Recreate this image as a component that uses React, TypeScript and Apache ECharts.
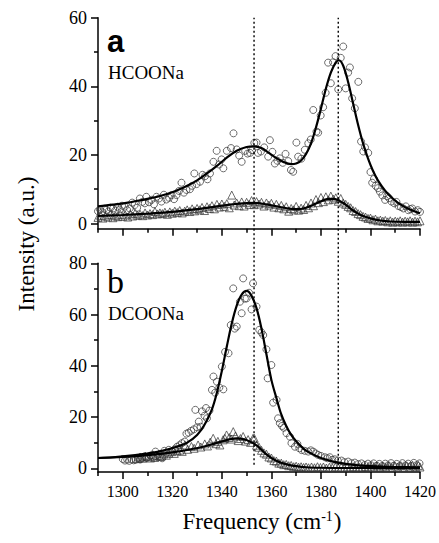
import React, { useEffect, useRef } from "react";
import * as echarts from "echarts";

// ---------- data (frequency cm^-1, intensity a.u.) ----------
const xTickLabels = [1300, 1320, 1340, 1360, 1380, 1400, 1420];
const xMinorTicks = [1290, 1310, 1330, 1350, 1370, 1390, 1410];
const yTicksA = [0, 20, 40, 60];
const yMinorA = [10, 30, 50];
const yTicksB = [0, 20, 40, 60, 80];
const yMinorB = [10, 30, 50, 70];
const markerLines = [1353, 1387];

// panel a, HCOONa – circles
const aCircles: [number, number][] = [
  [1290.0, 3.6], [1290.8, 4.1], [1291.7, 3.3], [1292.5, 4.3], [1293.4, 4.0], [1294.2, 3.5], [1295.1, 4.6],
  [1296.1, 4.4], [1297.0, 3.8], [1297.9, 4.9], [1298.8, 4.1], [1299.7, 5.2], [1300.8, 4.9], [1301.8, 3.9],
  [1302.8, 4.4], [1303.8, 6.1], [1304.8, 5.4], [1305.8, 4.6], [1306.9, 7.3], [1307.9, 6.3], [1308.9, 5.9],
  [1309.5, 7.8], [1310.6, 6.2], [1311.6, 6.9], [1312.6, 5.6], [1313.6, 7.8], [1314.6, 7.3], [1315.6, 6.4],
  [1316.6, 8.4], [1317.6, 7.0], [1318.7, 7.5], [1319.7, 8.3], [1320.7, 7.1], [1321.7, 8.3], [1322.7, 9.5],
  [1323.7, 11.9], [1324.7, 9.0], [1325.7, 9.8], [1327.1, 10.0], [1328.0, 11.0], [1328.9, 14.6], [1329.8, 11.5],
  [1331.2, 12.2], [1332.2, 14.2], [1333.2, 13.8], [1334.2, 12.9], [1335.2, 14.6], [1336.6, 18.0], [1337.9, 21.2],
  [1338.9, 17.2], [1339.9, 18.7], [1340.6, 16.1], [1342.0, 21.2], [1343.7, 22.0], [1344.7, 26.3], [1346.0, 21.6],
  [1347.0, 19.8], [1348.0, 18.0], [1349.4, 21.2], [1350.4, 20.4], [1351.4, 20.6], [1352.2, 21.4], [1353.1, 23.5],
  [1354.0, 23.6], [1354.6, 20.6], [1355.8, 21.0], [1357.1, 22.2], [1358.7, 19.5], [1359.4, 24.3], [1360.4, 20.9],
  [1361.4, 17.5], [1362.4, 18.3], [1363.4, 19.0], [1364.6, 17.7], [1365.7, 20.3], [1366.8, 18.2], [1367.9, 15.6],
  [1368.8, 15.1], [1370.1, 23.6], [1370.8, 19.5], [1372.1, 18.9], [1373.5, 21.5], [1374.9, 23.4], [1375.9, 24.5],
  [1376.9, 33.1], [1378.2, 26.8], [1378.9, 26.5], [1379.9, 31.5], [1380.9, 33.9], [1381.9, 38.1], [1382.9, 46.9],
  [1384.0, 40.9], [1384.9, 47.0], [1385.9, 48.8], [1387.0, 39.1], [1388.0, 48.3], [1389.0, 51.6], [1390.0, 39.4],
  [1391.0, 44.0], [1391.7, 45.5], [1392.6, 36.5], [1393.7, 33.6], [1395.1, 41.3], [1396.2, 23.9], [1397.1, 21.0],
  [1397.8, 22.2], [1399.1, 20.6], [1400.0, 15.0], [1400.7, 11.9], [1401.4, 13.0], [1402.1, 11.0], [1403.0, 10.3],
  [1403.8, 9.3], [1404.8, 8.2], [1405.9, 6.9], [1406.7, 8.0], [1407.5, 7.4], [1408.5, 6.4], [1409.6, 5.9],
  [1410.5, 6.3], [1411.3, 5.1], [1412.3, 4.8], [1413.3, 4.4], [1414.3, 5.0], [1415.3, 3.9], [1416.1, 4.2],
  [1416.9, 4.4], [1418.0, 3.5], [1419.1, 3.9], [1420.0, 3.4],
];

// panel a, HCOONa – triangles
const aTriangles: [number, number][] = [
  [1290, 1.8], [1291, 2.4], [1292, 1.6], [1293, 2.2], [1294, 1.9], [1295, 2.6], [1296, 1.7], [1297, 2.3],
  [1298, 2.0], [1299, 2.7], [1300, 2.1], [1301, 2.5], [1302, 1.9], [1303, 2.8], [1304, 2.2], [1305, 3.0],
  [1306, 2.4], [1307, 2.7], [1308, 2.3], [1309, 3.1], [1310, 2.5], [1311, 2.9], [1312, 2.6], [1313, 3.5],
  [1314, 2.8], [1315, 3.1], [1316, 2.9], [1317, 3.3], [1318, 2.7], [1319, 3.4], [1320, 3.0], [1321, 3.6],
  [1322, 3.2], [1323, 3.8], [1324, 3.1], [1325, 3.6], [1326, 4.0], [1327, 3.5], [1328, 4.3], [1329, 3.7],
  [1330, 4.4], [1331, 4.0], [1332, 4.7], [1333, 3.8], [1334, 4.9], [1335, 4.4], [1336, 5.2], [1337, 4.3],
  [1338, 5.6], [1339, 4.8], [1340, 5.7], [1341, 5.0], [1342, 5.8], [1343, 4.6], [1344, 8.3], [1345, 5.4],
  [1346, 6.0], [1347, 5.2], [1348, 6.3], [1349, 5.1], [1350, 6.2], [1351, 5.6], [1352, 6.7], [1353, 5.5],
  [1354, 6.4], [1355, 5.7], [1356, 6.2], [1357, 5.1], [1358, 6.0], [1359, 5.4], [1360, 5.9], [1361, 4.8],
  [1362, 5.6], [1363, 4.6], [1364, 5.3], [1365, 4.3], [1366, 4.9], [1367, 3.6], [1368, 4.4], [1369, 4.0],
  [1370, 5.0], [1371, 3.9], [1372, 4.5], [1373, 4.1], [1374, 5.3], [1375, 4.6], [1376, 6.0], [1377, 5.2],
  [1378, 7.0], [1379, 6.1], [1380, 7.6], [1381, 6.4], [1382, 7.8], [1383, 6.9], [1384, 8.0], [1385, 7.1],
  [1386, 7.5], [1387, 6.5], [1388, 7.3], [1389, 6.0], [1390, 5.6], [1391, 5.0], [1392, 4.6], [1393, 3.8],
  [1394, 3.5], [1395, 2.9], [1396, 2.6], [1397, 2.1], [1398, 1.9], [1399, 1.5], [1400, 1.6], [1401, 1.1],
  [1402, 1.3], [1403, 0.8], [1404, 1.0], [1405, 0.7], [1406, 0.9], [1407, 0.5], [1408, 0.8], [1409, 0.4],
  [1410, 0.7], [1411, 0.5], [1412, 0.8], [1413, 0.4], [1414, 0.7], [1415, 0.5], [1416, 0.8], [1417, 0.4],
  [1418, 0.7], [1419, 0.5], [1420, 0.8],
];

// panel a fits
const aFitCircles: [number, number][] = [
  [1290, 5.0], [1296, 5.5], [1302, 6.1], [1308, 6.9], [1314, 7.8], [1320, 9.1], [1326, 11.0], [1330, 12.6],
  [1334, 14.6], [1338, 16.8], [1342, 19.2], [1346, 21.2], [1350, 22.3], [1353, 22.5], [1356, 22.0], [1359, 20.6],
  [1362, 19.1], [1365, 17.9], [1368, 17.3], [1370, 17.5], [1372, 18.4], [1374, 20.3], [1376, 23.4], [1378, 28.0],
  [1380, 33.5], [1382, 39.3], [1384, 44.0], [1386, 47.0], [1387.3, 47.6], [1389, 46.0], [1391, 41.2], [1393, 35.0],
  [1395, 28.8], [1397, 23.4], [1399, 19.0], [1401, 15.4], [1403, 12.6], [1406, 9.5], [1409, 7.3], [1412, 5.6],
  [1416, 4.1], [1420, 3.0],
];
const aFitTriangles: [number, number][] = [
  [1290, 2.2], [1300, 2.5], [1310, 2.9], [1320, 3.4], [1330, 4.2], [1340, 5.2], [1347, 5.8], [1353, 6.0],
  [1358, 5.6], [1363, 4.9], [1368, 4.3], [1371, 4.2], [1374, 4.6], [1377, 5.5], [1380, 6.5], [1383, 7.2],
  [1385, 7.2], [1387, 6.8], [1389, 6.0], [1391, 4.9], [1393, 3.8], [1395, 2.9], [1397, 2.2], [1400, 1.5],
  [1404, 0.9], [1408, 0.6], [1414, 0.5], [1420, 0.5],
];

// panel b, DCOONa – circles
const bCircles: [number, number][] = [
  [1300.0, 3.6], [1300.9, 3.0], [1301.8, 3.4], [1302.6, 2.9], [1303.5, 3.5], [1304.4, 3.1], [1305.2, 3.3],
  [1306.1, 3.8], [1307.0, 3.4], [1307.8, 3.9], [1308.7, 4.6], [1309.6, 4.0], [1310.5, 4.5], [1311.4, 5.0],
  [1312.3, 4.3], [1313.2, 6.5], [1314.1, 5.2], [1315.0, 5.6], [1315.9, 3.9], [1316.8, 6.8], [1317.7, 6.0],
  [1318.6, 7.2], [1319.9, 6.5], [1320.9, 7.4], [1321.9, 8.4], [1322.9, 9.0], [1323.9, 9.8], [1325.0, 10.4],
  [1325.7, 13.5], [1326.6, 13.9], [1327.6, 14.6], [1328.7, 15.2], [1329.3, 22.8], [1330.0, 16.0], [1330.7, 18.2],
  [1331.4, 16.2], [1332.0, 22.2], [1333.0, 20.5], [1333.6, 23.5], [1334.0, 19.5], [1335.0, 22.5], [1336.0, 30.6],
  [1336.6, 35.8], [1337.3, 29.5], [1338.0, 33.8], [1339.0, 31.5], [1340.0, 39.7], [1340.6, 30.8], [1341.3, 45.4],
  [1342.7, 44.9], [1343.6, 55.9], [1344.6, 70.2], [1345.2, 54.5], [1346.0, 55.3], [1347.3, 65.0], [1348.0, 60.5],
  [1348.6, 74.1], [1349.3, 66.2], [1350.0, 66.3], [1351.0, 68.5], [1352.0, 62.0], [1352.6, 72.2], [1354.0, 63.1],
  [1355.1, 54.0], [1356.0, 53.0], [1356.7, 52.0], [1358.0, 46.4], [1358.5, 35.1], [1360.0, 40.3], [1360.7, 25.6],
  [1362.1, 26.7], [1362.7, 19.5], [1363.4, 17.6], [1364.3, 16.5], [1365.0, 15.8], [1366.1, 13.7], [1367.5, 12.3],
  [1368.1, 9.8], [1369.5, 8.4], [1370.5, 9.5], [1371.3, 7.8], [1372.2, 7.1], [1373.5, 6.8], [1374.9, 6.5],
  [1375.9, 7.0], [1376.9, 6.5], [1377.9, 5.8], [1378.9, 5.2], [1380.0, 4.8], [1381.6, 4.3], [1382.6, 3.9],
  [1383.6, 4.3], [1384.6, 3.3], [1385.6, 3.5], [1386.8, 3.0], [1388.3, 3.0], [1389.5, 2.4], [1391.0, 2.6],
  [1392.3, 2.0], [1393.7, 2.2], [1395.0, 1.6], [1396.4, 1.9], [1397.7, 1.3], [1399.0, 1.8], [1400.2, 1.2],
  [1401.3, 1.9], [1402.5, 1.0], [1403.6, 1.7], [1404.8, 0.9], [1406.0, 1.8], [1407.1, 1.1], [1408.3, 2.0],
  [1409.4, 1.0], [1410.6, 1.7], [1411.8, 0.8], [1412.9, 2.0], [1414.0, 1.1], [1415.2, 1.8], [1416.3, 0.9],
  [1417.5, 2.1], [1418.6, 1.2], [1419.8, 1.9],
];

// panel b, DCOONa – triangles
const bTriangles: [number, number][] = [
  [1306.0, 3.8], [1307.0, 4.4], [1308.0, 3.9], [1309.1, 4.7], [1310.2, 4.5], [1311.2, 4.0], [1312.2, 5.2],
  [1312.9, 4.2], [1314.0, 5.0], [1315.0, 4.6], [1315.6, 4.8], [1316.6, 5.6], [1317.6, 5.1], [1318.6, 5.9],
  [1319.7, 6.5], [1320.8, 5.8], [1321.9, 6.8], [1323.0, 7.1], [1324.0, 6.6], [1325.1, 9.1], [1326.2, 7.4],
  [1327.7, 8.5], [1328.8, 7.8], [1330.4, 9.1], [1331.5, 8.3], [1333.1, 9.5], [1334.2, 8.7], [1335.3, 10.2],
  [1336.5, 11.7], [1337.6, 9.6], [1338.4, 10.5], [1339.2, 9.1], [1340.5, 11.1], [1341.2, 11.7], [1341.9, 13.0],
  [1343.0, 12.0], [1343.8, 11.4], [1344.6, 14.3], [1345.5, 12.6], [1346.6, 10.8], [1347.5, 11.6], [1348.6, 12.4],
  [1349.6, 10.6], [1350.6, 11.2], [1351.6, 10.1], [1352.6, 11.7], [1353.1, 11.7], [1354.0, 9.0], [1355.0, 8.2],
  [1356.0, 7.0], [1357.0, 6.0], [1358.0, 5.5], [1359.0, 4.4], [1360.0, 4.0], [1361.0, 3.0], [1362.0, 2.8],
  [1363.0, 2.0], [1364.0, 2.0], [1365.0, 1.4], [1366.0, 1.5], [1367.0, 1.0], [1368.0, 1.1], [1369.0, 0.6],
  [1370.0, 0.8], [1371.0, 0.4], [1372.0, 0.6], [1373.0, 0.3], [1374.0, 0.5], [1375.0, 0.2], [1376.2, 0.5],
  [1377.4, 0.2], [1378.6, 0.6], [1379.8, 0.3], [1381.0, 0.5], [1382.2, 0.1], [1383.4, 0.4], [1384.6, 0.2],
  [1385.8, 0.5], [1387.0, 0.2], [1388.2, 0.4], [1389.4, 0.1], [1390.6, 0.5], [1391.8, 0.3], [1393.0, 0.6],
  [1394.2, 0.2], [1395.4, 0.5], [1396.6, 0.3], [1397.8, 0.7], [1399.0, 0.3], [1400.2, 0.8], [1401.4, 0.4],
  [1402.6, 0.9], [1403.8, 0.3], [1405.0, 0.8], [1406.2, 0.4], [1407.4, 1.0], [1408.6, 0.3], [1409.8, 0.9],
  [1411.0, 0.5], [1412.2, 1.1], [1413.4, 0.4], [1414.6, 1.0], [1415.8, 0.5], [1417.0, 1.2], [1418.2, 0.6],
  [1419.4, 1.1], [1420.0, 0.5],
];

// panel b fits
const bFitCircles: [number, number][] = [
  [1290, 4.0], [1296, 4.3], [1302, 4.8], [1308, 5.5], [1314, 6.4], [1318, 7.3], [1322, 8.5], [1326, 10.0],
  [1330, 13.0], [1333, 17.0], [1336, 23.0], [1338, 29.5], [1340, 38.0], [1342, 47.5], [1344, 56.5], [1346, 63.5],
  [1348, 67.8], [1350, 69.2], [1352, 67.3], [1354, 62.5], [1356, 54.5], [1358, 44.5], [1360, 34.5], [1362, 27.5],
  [1364, 21.0], [1366, 16.5], [1368, 13.0], [1370, 10.5], [1373, 7.6], [1376, 5.8], [1380, 4.0], [1385, 2.6],
  [1390, 1.7], [1395, 1.1], [1400, 0.8], [1405, 0.6], [1410, 0.5], [1420, 0.4],
];
const bFitTriangles: [number, number][] = [
  [1290, 4.0], [1300, 4.4], [1310, 5.1], [1320, 6.2], [1328, 7.5], [1334, 8.8], [1338, 9.9], [1342, 11.0],
  [1346, 11.7], [1349, 11.3], [1352, 10.1], [1354, 8.9], [1356, 7.2], [1358, 5.4], [1360, 4.0], [1362, 2.9],
  [1364, 2.1], [1367, 1.3], [1370, 0.8], [1374, 0.4], [1380, 0.2], [1390, 0.1], [1420, 0.1],
];

const SERIF = "Liberation Serif";
const SANS = "Liberation Sans";

export default function App() {
  const ref = useRef<HTMLDivElement>(null);
  useEffect(() => {
    if (!ref.current) return;
    const chart = echarts.init(ref.current, undefined, { renderer: "svg" });

    const grids = [
      { left: 98, top: 17.7, width: 322, height: 211 },
      { left: 98, top: 263.3, width: 322, height: 208.8 },
      { left: 98, top: 17.7, width: 322, height: 447 },
    ];

    const lineCol = "#000";
    const plain = (v: number) => String(v);
    const mkXMain = (gi: number, showLabels: boolean) => ({
      type: "value",
      gridIndex: gi,
      position: "bottom",
      min: 1290,
      max: 1420,
      axisLine: { show: true, onZero: false, lineStyle: { color: lineCol, width: 1.5 } },
      axisTick: { show: true, length: 7, customValues: xTickLabels, lineStyle: { color: lineCol, width: 1.5 } },
      axisLabel: {
        show: showLabels,
        customValues: xTickLabels,
        formatter: plain,
        margin: 11,
        color: "#000",
        fontFamily: SERIF,
        fontSize: 16,
      },
      splitLine: { show: false },
    });
    const mkXMinor = (gi: number) => ({
      type: "value",
      gridIndex: gi,
      position: "bottom",
      offset: 0,
      min: 1290,
      max: 1420,
      axisLine: { show: false, onZero: false },
      axisTick: { show: true, length: 4, customValues: xMinorTicks, lineStyle: { color: lineCol, width: 1.5 } },
      axisLabel: { show: false },
      splitLine: { show: false },
    });
    const mkYMain = (gi: number, max: number, ticks: number[]) => ({
      type: "value",
      gridIndex: gi,
      position: "left",
      min: -1.5,
      max,
      axisLine: { show: true, onZero: false, lineStyle: { color: lineCol, width: 1.5 } },
      axisTick: { show: true, length: 7, customValues: ticks, lineStyle: { color: lineCol, width: 1.5 } },
      axisLabel: {
        show: true,
        customValues: ticks,
        formatter: plain,
        margin: 11,
        color: "#000",
        fontFamily: SERIF,
        fontSize: 18,
      },
      splitLine: { show: false },
    });
    const mkYMinor = (gi: number, max: number, ticks: number[]) => ({
      type: "value",
      gridIndex: gi,
      position: "left",
      offset: 0,
      min: -1.5,
      max,
      axisLine: { show: false, onZero: false },
      axisTick: { show: true, length: 4, customValues: ticks, lineStyle: { color: lineCol, width: 1.5 } },
      axisLabel: { show: false },
      splitLine: { show: false },
    });

    const xAxis: any[] = [
      mkXMain(0, false),
      mkXMinor(0),
      mkXMain(1, true),
      mkXMinor(1),
      { type: "value", gridIndex: 2, min: 1290, max: 1420, show: false },
    ];
    const yAxis: any[] = [
      mkYMain(0, 60, yTicksA),
      mkYMinor(0, 60, yMinorA),
      mkYMain(1, 80, yTicksB),
      mkYMinor(1, 80, yMinorB),
      { type: "value", gridIndex: 2, min: 0, max: 1, show: false },
    ];

    const markerStyle = { color: "rgba(0,0,0,0)", borderColor: "#333", borderWidth: 0.9 };
    const scatter = (data: [number, number][], xi: number, yi: number, symbol: string, size: number) => ({
      type: "scatter",
      xAxisIndex: xi,
      yAxisIndex: yi,
      data,
      symbol,
      symbolSize: size,
      itemStyle: markerStyle,
      silent: true,
      z: 2,
    });
    const fit = (data: [number, number][], xi: number, yi: number) => ({
      type: "line",
      xAxisIndex: xi,
      yAxisIndex: yi,
      data,
      showSymbol: false,
      smooth: 0.35,
      lineStyle: { color: "#000", width: 2.2 },
      silent: true,
      z: 3,
    });
    const dotted = markerLines.map((f) => ({
      type: "line",
      xAxisIndex: 4,
      yAxisIndex: 4,
      data: [
        [f, 0],
        [f, 1],
      ],
      showSymbol: false,
      lineStyle: { color: "#000", width: 1.4, type: [2, 2.5] },
      silent: true,
      z: 4,
    }));

    const txt = (text: string, x: number, y: number, family: string, size: number, weight = "normal") => ({
      type: "text",
      x,
      y,
      style: {
        text,
        fontFamily: family,
        fontSize: size,
        fontWeight: weight,
        fill: "#000",
        textAlign: "left",
        textVerticalAlign: "middle",
      },
    });

    chart.setOption({
      animation: false,
      backgroundColor: "#fff",
      grid: grids,
      xAxis,
      yAxis,
      series: [
        scatter(aCircles, 0, 0, "circle", 7),
        scatter(aTriangles, 0, 0, "triangle", 8),
        fit(aFitCircles, 0, 0),
        fit(aFitTriangles, 0, 0),
        scatter(bCircles, 2, 2, "circle", 7),
        scatter(bTriangles, 2, 2, "triangle", 8),
        fit(bFitCircles, 2, 2),
        fit(bFitTriangles, 2, 2),
        ...dotted,
      ],
      graphic: [
        txt("a", 107, 41, SANS, 31, "bold"),
        txt("HCOONa", 108, 72, SERIF, 19),
        txt("b", 107, 281, SERIF, 34),
        txt("DCOONa", 108, 313, SERIF, 19),
        {
          type: "text",
          x: 26,
          y: 244,
          rotation: Math.PI / 2,
          style: {
            text: "Intensity (a.u.)",
            fontFamily: SERIF,
            fontSize: 23,
            fill: "#000",
            textAlign: "center",
            textVerticalAlign: "middle",
          },
        },
        {
          type: "text",
          x: 262,
          y: 521,
          style: {
            text: "Frequency (cm{sup|-1})",
            fontFamily: SERIF,
            fontSize: 23,
            fill: "#000",
            textAlign: "center",
            textVerticalAlign: "middle",
            rich: {
              sup: { fontSize: 14, fontFamily: SERIF, verticalAlign: "top", fill: "#000", padding: [0, 1, 10, 0] },
            },
          },
        },
      ],
    });
    return () => chart.dispose();
  }, []);
  return <div ref={ref} style={{ width: 439, height: 543, position: "absolute", left: 0, top: 0 }} />;
}
